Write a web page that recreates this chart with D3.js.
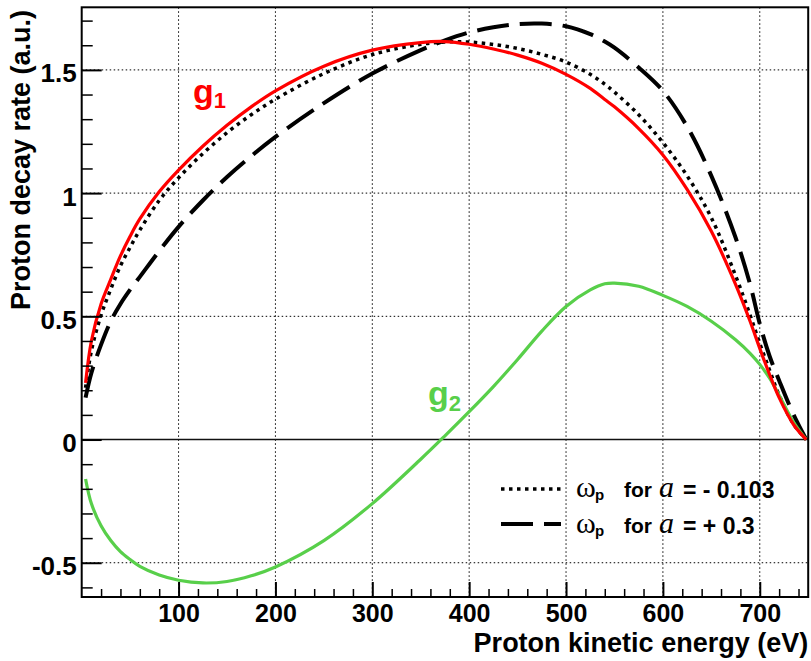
<!DOCTYPE html>
<html>
<head>
<meta charset="utf-8">
<script src="https://cdn.jsdelivr.net/npm/d3@7/dist/d3.min.js"></script>
<style>
  body { margin: 0; background: #fff; }
  text { font-family: "Liberation Sans", Arial, sans-serif; font-weight: bold; }
</style>
</head>
<body>
<svg id="chart" width="811" height="661"></svg>
<script>
// Proton kinetic energy grid (eV)
const energy = [4, 10, 20, 30, 40, 50, 60, 80, 100, 125, 150, 175, 200, 250, 300, 350, 375, 400,
                425, 450, 475, 500, 525, 540, 550, 575, 600, 625, 650, 675, 690, 700, 710, 720, 735, 748];
// g1 term
const g1 = [0.23, 0.40, 0.55, 0.65, 0.745, 0.825, 0.895, 1.005, 1.093, 1.19, 1.275, 1.35, 1.415, 1.515,
            1.58, 1.611, 1.615, 1.604, 1.585, 1.56, 1.527, 1.482, 1.425, 1.38, 1.35, 1.262, 1.155,
            1.015, 0.845, 0.63, 0.48, 0.37, 0.265, 0.17, 0.06, 0];
// g2 term
const g2 = [-0.16, -0.26, -0.35, -0.41, -0.455, -0.487, -0.515, -0.55, -0.571, -0.582, -0.576, -0.553,
            -0.517, -0.41, -0.26, -0.08, 0.015, 0.113, 0.215, 0.325, 0.44, 0.54, 0.607, 0.632, 0.635,
            0.622, 0.585, 0.54, 0.48, 0.405, 0.35, 0.305, 0.25, 0.18, 0.07, 0];
// omega_p for a = -0.103
const omegaMinus = [0.21, 0.36, 0.505, 0.61, 0.705, 0.78, 0.85, 0.97, 1.062, 1.16, 1.245, 1.318, 1.381,
                    1.485, 1.562, 1.604, 1.613, 1.613, 1.603, 1.587, 1.563, 1.532, 1.482, 1.442, 1.41,
                    1.318, 1.205, 1.07, 0.90, 0.665, 0.505, 0.39, 0.283, 0.18, 0.062, 0];
// omega_p for a = +0.3
const omegaPlus = [0.17, 0.27, 0.385, 0.48, 0.55, 0.608, 0.66, 0.765, 0.863, 0.97, 1.065, 1.15, 1.228,
                   1.365, 1.485, 1.58, 1.62, 1.652, 1.673, 1.686, 1.688, 1.677, 1.645, 1.615, 1.59,
                   1.51, 1.415, 1.27, 1.07, 0.82, 0.63, 0.47, 0.34, 0.24, 0.10, 0];

const xTicks = [100, 200, 300, 400, 500, 600, 700];
const yTicks = [-0.5, 0, 0.5, 1, 1.5];
const yTickLabels = ["-0.5", "0", "0.5", "1", "1.5"];

const svg = d3.select("#chart");
const L = 81.7, R = 808.2, T = 7.3, B = 597;

const x = d3.scaleLinear().domain([0, 750]).range([L, R]);
const y = d3.scaleLinear().domain([-0.639, 1.754]).range([B, T]);

// grid
const grid = svg.append("g").attr("stroke", "#000").attr("stroke-width", 1)
  .attr("stroke-dasharray", "1.5,2.5");
grid.selectAll(".gx").data(xTicks).join("line")
  .attr("x1", d => x(d)).attr("x2", d => x(d)).attr("y1", T).attr("y2", B);
grid.selectAll(".gy").data(yTicks.filter(v => v !== 0)).join("line")
  .attr("x1", L).attr("x2", R).attr("y1", d => y(d)).attr("y2", d => y(d));

// zero line
svg.append("line").attr("x1", L).attr("x2", R).attr("y1", y(0)).attr("y2", y(0))
  .attr("stroke", "#111").attr("stroke-width", 1.5);

// curves
const pts = vals => energy.map((e, i) => [e, vals[i]]);
const line = d3.line().x(d => x(d[0])).y(d => y(d[1])).curve(d3.curveCatmullRom.alpha(0.5));

svg.append("path").attr("d", line(pts(omegaMinus))).attr("fill", "none")
  .attr("stroke", "#000").attr("stroke-width", 3.5).attr("stroke-dasharray", "3.5,4.5");
svg.append("path").attr("d", line(pts(omegaPlus))).attr("fill", "none")
  .attr("stroke", "#000").attr("stroke-width", 4).attr("stroke-dasharray", "32,11");
svg.append("path").attr("d", line(pts(g2))).attr("fill", "none")
  .attr("stroke", "#58cf4a").attr("stroke-width", 3.2);
svg.append("path").attr("d", line(pts(g1))).attr("fill", "none")
  .attr("stroke", "#ff0000").attr("stroke-width", 3.2);

// axes (ticks inside the frame)
const minorY = d3.range(-6, 18).map(i => i / 10).filter(v => Math.abs(v * 2 - Math.round(v * 2)) > 1e-6);
const minorX = d3.range(20, 750, 20).filter(v => v % 100 !== 0);

const yAxis = svg.append("g").attr("transform", `translate(${L},0)`)
  .call(d3.axisLeft(y).tickValues(yTicks).tickSizeInner(-20).tickSizeOuter(0).tickPadding(5)
    .tickFormat((d, i) => yTickLabels[i]));
yAxis.select(".domain").remove();
yAxis.selectAll("line").attr("stroke-width", 2);
yAxis.selectAll("text").attr("font-size", 26).attr("dy", "0.46em").attr("fill", "#000")
  .style("font-family", "Liberation Sans, Arial, sans-serif").style("font-weight", "bold");

const yMinor = svg.append("g").attr("transform", `translate(${L},0)`)
  .call(d3.axisLeft(y).tickValues(minorY).tickSizeInner(-11).tickSizeOuter(0).tickFormat(""));
yMinor.select(".domain").remove();
yMinor.selectAll("line").attr("stroke-width", 1.5);

const xAxis = svg.append("g").attr("transform", `translate(0,${B})`)
  .call(d3.axisBottom(x).tickValues(xTicks).tickSizeInner(-15).tickSizeOuter(0).tickPadding(7));
xAxis.select(".domain").remove();
xAxis.selectAll("line").attr("stroke-width", 2);
xAxis.selectAll("text").attr("font-size", 25).attr("fill", "#000")
  .style("font-family", "Liberation Sans, Arial, sans-serif").style("font-weight", "bold");

const xMinor = svg.append("g").attr("transform", `translate(0,${B})`)
  .call(d3.axisBottom(x).tickValues(minorX).tickSizeInner(-8).tickSizeOuter(0).tickFormat(""));
xMinor.select(".domain").remove();
xMinor.selectAll("line").attr("stroke-width", 1.5);

// frame
svg.append("rect").attr("x", L).attr("y", T).attr("width", R - L).attr("height", B - T)
  .attr("fill", "none").attr("stroke", "#000").attr("stroke-width", 2);

// axis titles
svg.append("text").attr("x", R).attr("y", 652).attr("text-anchor", "end")
  .attr("font-size", 27).text("Proton kinetic energy (eV)");
svg.append("text").attr("transform", "translate(30,10) rotate(-90)").attr("text-anchor", "end")
  .attr("font-size", 27).text("Proton decay rate (a.u.)");

// curve labels
const lab1 = svg.append("text").attr("x", 193).attr("y", 103).attr("fill", "#ff0000");
lab1.append("tspan").attr("font-size", 34).text("g");
lab1.append("tspan").attr("font-size", 22).attr("dy", 5).text("1");
const lab2 = svg.append("text").attr("x", 428).attr("y", 405).attr("fill", "#58cf4a");
lab2.append("tspan").attr("font-size", 34).text("g");
lab2.append("tspan").attr("font-size", 22).attr("dy", 6).text("2");

// legend
const legend = [
  { dash: "3.5,4.5", width: 3.5, y: 489, base: 497, value: "= - 0.103" },
  { dash: "32,11", width: 4, y: 524, base: 533, value: "= + 0.3" }
];
legend.forEach(d => {
  svg.append("line").attr("x1", 501).attr("x2", 561).attr("y1", d.y).attr("y2", d.y)
    .attr("stroke", "#000").attr("stroke-width", d.width).attr("stroke-dasharray", d.dash);
  svg.append("text").attr("x", 576).attr("y", d.base)
    .style("font-family", "Liberation Serif, Times New Roman, serif").style("font-weight", "normal")
    .attr("font-size", 30).text("ω");
  svg.append("text").attr("x", 595).attr("y", d.base + 3).attr("font-size", 15).text("p");
  svg.append("text").attr("x", 624).attr("y", d.base).attr("font-size", 21).text("for");
  svg.append("text").attr("x", 659).attr("y", d.base)
    .style("font-family", "Liberation Serif, Times New Roman, serif").style("font-style", "italic")
    .style("font-weight", "normal").attr("font-size", 30).text("a");
  svg.append("text").attr("x", 683).attr("y", d.base + 1).attr("font-size", 23).attr("xml:space", "preserve")
    .text(d.value);
});
</script>
</body>
</html>
